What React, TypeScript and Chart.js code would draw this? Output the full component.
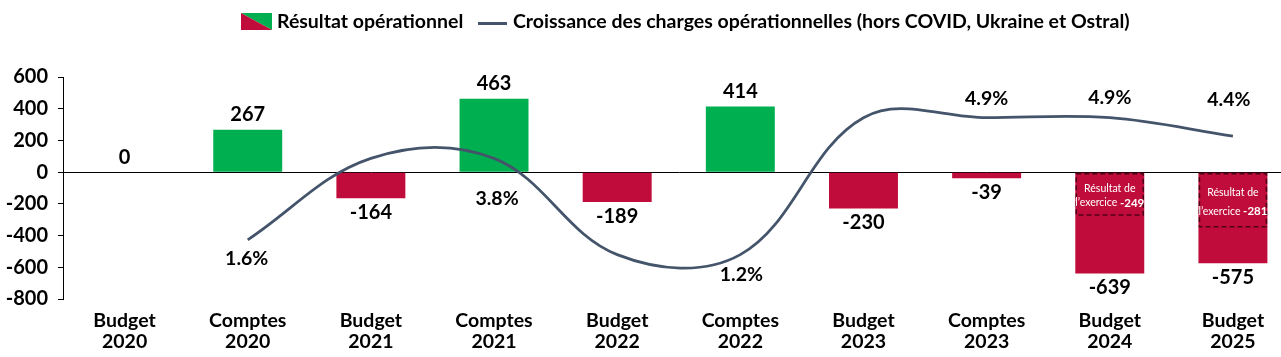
import { useEffect, useRef } from 'react';
import { Chart, registerables } from 'chart.js';

Chart.register(...registerables);

// ---------- data ----------
const categories: string[][] = [
  ['Budget', '2020'],
  ['Comptes', '2020'],
  ['Budget', '2021'],
  ['Comptes', '2021'],
  ['Budget', '2022'],
  ['Comptes', '2022'],
  ['Budget', '2023'],
  ['Comptes', '2023'],
  ['Budget', '2024'],
  ['Budget', '2025'],
];
const resultatOperationnel = [0, 267, -164, 463, -189, 414, -230, -39, -639, -575];
const croissanceCharges: (number | null)[] = [null, 1.6, 3.8, 3.8, 1.2, 1.2, 4.9, 4.9, 4.9, 4.4];
const croissanceLabelShown = [false, true, false, true, false, true, false, true, true, true];
const resultatExercice: (number | null)[] = [null, null, null, null, null, null, null, null, -249, -281];
const exerciceBoxExtent: (number | null)[] = [null, null, null, null, null, null, null, null, -270, -345];
const yMin = -800;
const yMax = 600;
const yStep = 200;
const y2Min = 0;
const y2Max = 6;

const legendBarLabel = 'Résultat opérationnel';
const legendLineLabel = 'Croissance des charges opérationnelles (hors COVID, Ukraine et Ostral)';

// ---------- styles ----------
const FONT = 'Lato, "Open Sans", "DejaVu Sans", sans-serif';
const GREEN = '#00B050';
const RED = '#C00C3B';
const LINE = '#44546A';
const lineLabelDy = [0, 19, 0, 40, 0, 20, 0, -19, -20, -36];
const lineLabelDx = [0, -1, 0, 3, 0, 1, 0, 0, 0, -4];

export default function App() {
  const ref = useRef<HTMLCanvasElement | null>(null);

  useEffect(() => {
    const canvas = ref.current;
    if (!canvas) return;

    const customPlugin = {
      id: 'customDraw',
      afterDatasetsDraw(chart: any) {
        const ctx: CanvasRenderingContext2D = chart.ctx;
        const yScale = chart.scales.y;
        const barMeta = chart.getDatasetMeta(0);
        const lineMeta = chart.getDatasetMeta(1);
        ctx.save();

        // "Résultat de l'exercice" boxes
        barMeta.data.forEach((bar: any, i: number) => {
          const v = resultatExercice[i];
          const ext = exerciceBoxExtent[i];
          if (v == null || ext == null) return;
          const { x, width } = bar.getProps(['x', 'width'], true);
          const top = yScale.getPixelForValue(0);
          const bottom = yScale.getPixelForValue(ext);
          ctx.setLineDash([5, 3]);
          ctx.strokeStyle = 'rgba(50,0,15,0.8)';
          ctx.lineWidth = 1.5;
          ctx.strokeRect(x - width / 2 + 1, top + 1.5, width - 2, bottom - top - 1.5);
          ctx.setLineDash([]);
          ctx.fillStyle = '#fff';
          ctx.textAlign = 'center';
          ctx.textBaseline = 'middle';
          ctx.font = `10.5px ${FONT}`;
          const midTop = top + (bottom - top) * 0.38;
          const midBot = top + (bottom - top) * 0.72;
          ctx.fillText('Résultat de', x, midTop);
          const p1 = 'l’exercice ';
          const p2 = String(v);
          ctx.font = `10.5px ${FONT}`;
          const w1 = ctx.measureText(p1).width;
          ctx.font = `bold 11.5px ${FONT}`;
          const w2 = ctx.measureText(p2).width;
          const start = x - (w1 + w2) / 2;
          ctx.textAlign = 'left';
          ctx.font = `10.5px ${FONT}`;
          ctx.fillText(p1, start, midBot);
          ctx.font = `bold 11.5px ${FONT}`;
          ctx.fillText(p2, start + w1, midBot);
        });

        // bar value labels
        ctx.fillStyle = '#000';
        ctx.textAlign = 'center';
        ctx.textBaseline = 'middle';
        ctx.font = `bold 20px ${FONT}`;
        barMeta.data.forEach((bar: any, i: number) => {
          const v = resultatOperationnel[i];
          const { x, y } = bar.getProps(['x', 'y'], true);
          const ly = v >= 0 ? y - 15 : y + 14;
          ctx.fillText(String(v), x, ly);
        });

        // line value labels
        ctx.font = `bold 19.5px ${FONT}`;
        lineMeta.data.forEach((pt: any, i: number) => {
          const v = croissanceCharges[i];
          if (v == null || !croissanceLabelShown[i]) return;
          const { x, y } = pt.getProps(['x', 'y'], true);
          ctx.fillText(`${v.toFixed(1)}%`, x + lineLabelDx[i], y + lineLabelDy[i]);
        });

        ctx.restore();
      },
      afterDraw(chart: any) {
        const ctx: CanvasRenderingContext2D = chart.ctx;
        ctx.save();
        // bar legend icon (two triangles)
        const ix = 241, iy = 13, iw = 31, ih = 17;
        ctx.fillStyle = GREEN;
        ctx.beginPath();
        ctx.moveTo(ix, iy);
        ctx.lineTo(ix + iw, iy);
        ctx.lineTo(ix + iw, iy + ih);
        ctx.closePath();
        ctx.fill();
        ctx.fillStyle = RED;
        ctx.beginPath();
        ctx.moveTo(ix, iy);
        ctx.lineTo(ix + iw, iy + ih);
        ctx.lineTo(ix, iy + ih);
        ctx.closePath();
        ctx.fill();
        ctx.fillStyle = '#000';
        ctx.font = `bold 19.5px ${FONT}`;
        ctx.textAlign = 'left';
        ctx.textBaseline = 'middle';
        ctx.fillText(legendBarLabel, 277, 22);
        // line legend
        ctx.strokeStyle = LINE;
        ctx.lineWidth = 3;
        ctx.beginPath();
        ctx.moveTo(478, 23.5);
        ctx.lineTo(507, 23.5);
        ctx.stroke();
        ctx.fillText(legendLineLabel, 513, 22);
        ctx.restore();
      },
    };

    const chart = new Chart(canvas, {
      type: 'bar',
      data: {
        labels: categories,
        datasets: [
          {
            type: 'bar',
            label: legendBarLabel,
            data: resultatOperationnel,
            backgroundColor: resultatOperationnel.map((v) => (v >= 0 ? GREEN : RED)),
            borderWidth: 0,
            categoryPercentage: 1,
            barPercentage: 0.56,
            yAxisID: 'y',
            order: 2,
          },
          {
            type: 'line',
            label: legendLineLabel,
            data: croissanceCharges,
            borderColor: LINE,
            borderWidth: 2.75,
            pointRadius: 0,
            tension: 0.37,
            fill: false,
            yAxisID: 'y1',
            order: 1,
          },
        ] as any,
      },
      options: {
        responsive: false,
        animation: false,
        devicePixelRatio: 1,
        layout: { padding: { top: 77, right: 15.5, left: 0, bottom: 0 } },
        plugins: {
          legend: { display: false },
          tooltip: { enabled: false },
          title: { display: false },
        },
        scales: {
          x: {
            grid: { display: false, drawTicks: false },
            border: { display: false },
            ticks: {
              color: '#000',
              font: { family: FONT, size: 19.5, weight: 'bold', lineHeight: 1.08 },
              padding: 11,
              maxRotation: 0,
              autoSkip: false,
            },
            afterFit(scale: any) {
              scale.height = 58;
            },
          },
          y: {
            min: yMin,
            max: yMax,
            position: 'left',
            ticks: {
              stepSize: yStep,
              color: '#000',
              padding: 10,
              font: { family: FONT, size: 20, weight: 'bold' },
            },
            grid: {
              color: (c: any) => (c.tick && c.tick.value === 0 ? '#000' : 'rgba(0,0,0,0)'),
              tickColor: '#000',
              tickLength: 5,
              lineWidth: 1,
            },
            border: { display: true, color: '#000', width: 1 },
            afterFit(scale: any) {
              scale.width = 63;
            },
          },
          y1: {
            display: false,
            min: y2Min,
            max: y2Max,
          },
        },
      } as any,
      plugins: [customPlugin],
    });

    return () => chart.destroy();
  }, []);

  return (
    <div
      style={{
        position: 'fixed',
        left: 0,
        top: 0,
        width: 1281,
        height: 357,
        overflow: 'hidden',
        background: '#fff',
      }}
    >
      <canvas ref={ref} width={1310} height={357} style={{ display: 'block', width: 1310, height: 357 }} />
    </div>
  );
}
